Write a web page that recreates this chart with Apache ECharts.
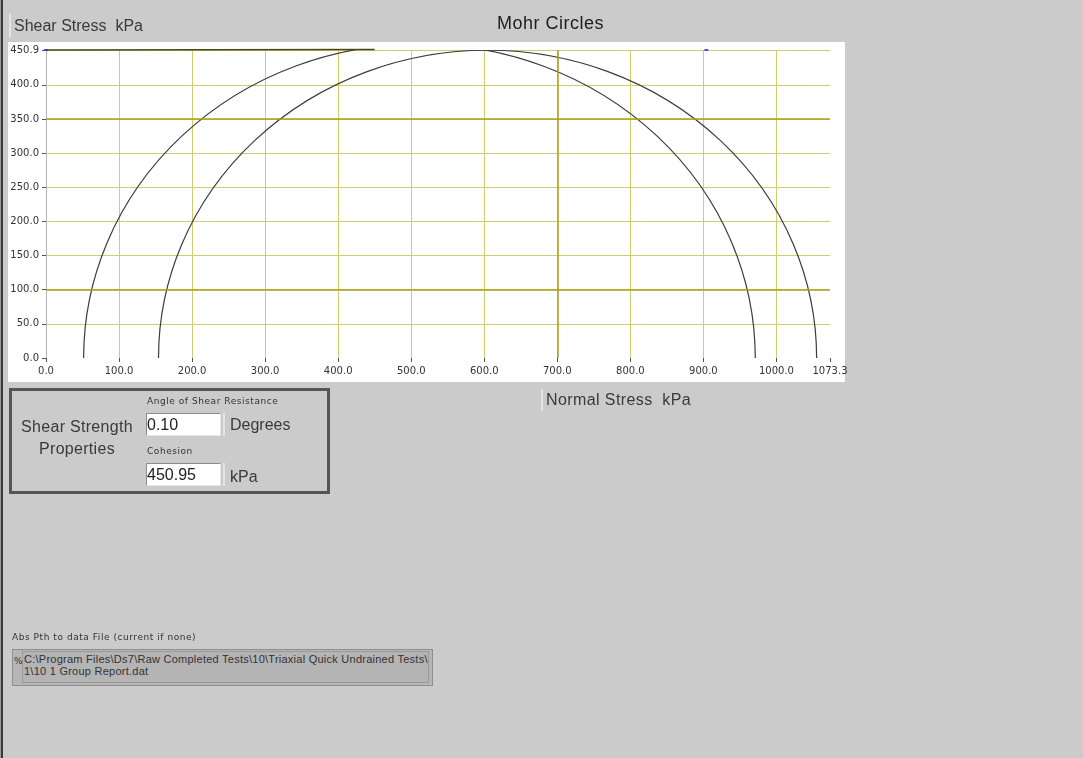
<!DOCTYPE html>
<html>
<head>
<meta charset="utf-8">
<script src="https://cdn.jsdelivr.net/npm/echarts@6/dist/echarts.min.js"></script>
<style>
html,body{margin:0;padding:0;width:1083px;height:758px;overflow:hidden;background:#cbcbcb;font-family:"Liberation Sans",Arial,sans-serif;}
#panel{position:absolute;left:8px;top:42px;width:837px;height:340px;background:#ffffff;}
#chart{position:absolute;left:0;top:0;width:1083px;height:758px;}
.t{position:absolute;white-space:pre;color:#2e2e2e;}
.bar{position:absolute;background:#e4e4e4;}
.inp{position:absolute;background:#fff;border-top:1px solid #8c8c8c;border-left:1px solid #8c8c8c;border-right:1px solid #e8e8e8;border-bottom:1px solid #e8e8e8;box-sizing:border-box;font-size:16px;line-height:21px;padding-left:0px;color:#222;}
.tiny{font-family:"DejaVu Sans",sans-serif;font-size:9px;letter-spacing:0.55px;color:#333;}
</style>
</head>
<body>
<div id="panel"></div>
<div id="chart"></div>

<div style="position:absolute;left:0;top:0;width:1px;height:758px;background:#9c9c9c;"></div>
<div style="position:absolute;left:1px;top:0;width:2px;height:758px;background:#3a3a3a;"></div>

<div class="bar" style="left:9px;top:14px;width:2px;height:24px;"></div>
<div class="t" style="left:14px;top:17px;font-size:16px;line-height:18px;color:#3a3a3a;">Shear Stress  kPa</div>
<div class="t" style="left:497px;top:13px;font-size:18px;line-height:20px;letter-spacing:0.5px;color:#1e1e1e;">Mohr Circles</div>
<div class="bar" style="left:541px;top:389px;width:2px;height:22px;"></div>
<div class="t" style="left:546px;top:391px;font-size:16px;line-height:18px;letter-spacing:0.4px;color:#3a3a3a;">Normal Stress  kPa</div>

<div style="position:absolute;left:9px;top:388px;width:321px;height:106px;box-sizing:border-box;border:3px solid #555;"></div>
<div class="t" style="left:12px;top:416px;width:130px;text-align:center;font-size:16px;line-height:22px;letter-spacing:0.3px;color:#3a3a3a;">Shear Strength
Properties</div>
<div class="t tiny" style="left:147px;top:396px;">Angle of Shear Resistance</div>
<div class="inp" style="left:146px;top:413px;width:75px;height:23px;">0.10</div>
<div class="bar" style="left:223px;top:413px;width:2px;height:23px;"></div>
<div class="t" style="left:230px;top:416px;font-size:16px;line-height:18px;color:#3a3a3a;">Degrees</div>
<div class="t tiny" style="left:147px;top:446px;">Cohesion</div>
<div class="inp" style="left:146px;top:463px;width:75px;height:23px;">450.95</div>
<div class="bar" style="left:223px;top:463px;width:2px;height:23px;"></div>
<div class="t" style="left:230px;top:468px;font-size:16px;line-height:18px;color:#3a3a3a;">kPa</div>

<div class="t tiny" style="left:12px;top:632px;">Abs Pth to data File (current if none)</div>
<div style="position:absolute;left:12px;top:649px;width:421px;height:37px;box-sizing:border-box;background:#b6b6b6;border:1px solid #8e8e8e;"></div>
<div style="position:absolute;left:22px;top:651px;width:407px;height:32px;box-sizing:border-box;background:#b4b4b4;border:1px solid #9a9a9a;"></div>
<div class="t" style="left:14px;top:656px;font-size:9px;color:#333;font-family:'DejaVu Sans',sans-serif;">%</div>
<div class="t" style="left:24px;top:653px;font-size:11px;line-height:12px;color:#333;letter-spacing:0.25px;">C:\Program Files\Ds7\Raw Completed Tests\10\Triaxial Quick Undrained Tests\
1\10 1 Group Report.dat</div>

<script>
// ---- data ----
const xTicks = [0, 100, 200, 300, 400, 500, 600, 700, 800, 900, 1000, 1073.3];
const yTicks = [0, 50, 100, 150, 200, 250, 300, 350, 400, 450.9];
const sigma3 = [51.5, 154];      // minor principal stress (kPa) per test
const sigma1 = [971, 1055];      // major principal stress (kPa) per test
const envSigma = [0, 450];       // failure envelope (c = 450.95 kPa, phi = 0.10 deg)
const envTau = [450.95, 451.74];
const markerSigma = [0, 904];
const markerTau = [450.9, 450.9];
const majorX = [700];
const majorY = [100, 350];

const chart = echarts.init(document.getElementById('chart'), null, {renderer: 'canvas'});

const circleData = sigma3.map((s, i) => [s, sigma1[i]]);
const envData = envSigma.map((s, i) => [s, envTau[i]]);
const markerData = markerSigma.map((s, i) => [s, markerTau[i]]);

const labelStyle = {fontSize: 10, color: '#333', fontFamily: 'DejaVu Sans'};
const minorGrid = '#d2cd6c';

chart.setOption({
  backgroundColor: 'transparent',
  animation: false,
  grid: {left: 46, top: 50, width: 784, height: 308, containLabel: false},
  xAxis: {
    type: 'value', min: 0, max: 1073.3, interval: 100,
    axisLine: {show: false},
    axisTick: {show: true, length: 4, customValues: xTicks, lineStyle: {color: '#555'}},
    axisLabel: Object.assign({customValues: xTicks, margin: 8, formatter: v => Number(v).toFixed(1)}, labelStyle),
    splitLine: {show: true, showMinLine: false, showMaxLine: false, lineStyle: {color: minorGrid, width: 1}}
  },
  yAxis: {
    type: 'value', min: 0, max: 450.9, interval: 50,
    axisLine: {show: true, lineStyle: {color: '#b4b4bc', width: 1}},
    axisTick: {show: true, length: 4, customValues: yTicks, lineStyle: {color: '#555'}},
    axisLabel: Object.assign({customValues: yTicks, margin: 7, formatter: v => Number(v).toFixed(1)}, labelStyle),
    splitLine: {show: true, showMinLine: false, showMaxLine: true, lineStyle: {color: minorGrid, width: 1}}
  },
  series: [
    {
      type: 'line', name: 'grid-major', data: [], silent: true,
      markLine: {
        silent: true, symbol: 'none', label: {show: false},
        lineStyle: {color: '#a8a018', type: 'solid', width: 1.5},
        data: majorX.map(v => ({xAxis: v})).concat(majorY.map(v => ({yAxis: v})))
      }
    },
    {
      type: 'custom', name: 'Mohr circles', clip: true, data: circleData,
      encode: {x: [0, 1]},
      renderItem: function (params, api) {
        const s3 = api.value(0), s1 = api.value(1);
        const p0 = api.coord([s3, 0]);
        const p1 = api.coord([s1, 0]);
        const r = (s1 - s3) / 2;
        const sz = api.size([r, r], [s3 + r, 0]);
        return {
          type: 'path',
          shape: {pathData: 'M' + p0[0] + ' ' + p0[1] + ' A' + sz[0] + ' ' + sz[1] + ' 0 0 1 ' + p1[0] + ' ' + p1[1]},
          style: {fill: 'none', stroke: '#3c3c3c', lineWidth: 1.2}
        };
      }
    },
    {
      type: 'line', name: 'envelope', data: envData, clip: false, symbol: 'none',
      lineStyle: {color: '#4a4716', width: 1.6}
    },
    {
      type: 'scatter', name: 'markers', data: markerData, clip: false,
      symbol: 'rect', symbolSize: [4, 2], itemStyle: {color: '#2a2aff'}
    }
  ]
});
</script>
</body>
</html>
